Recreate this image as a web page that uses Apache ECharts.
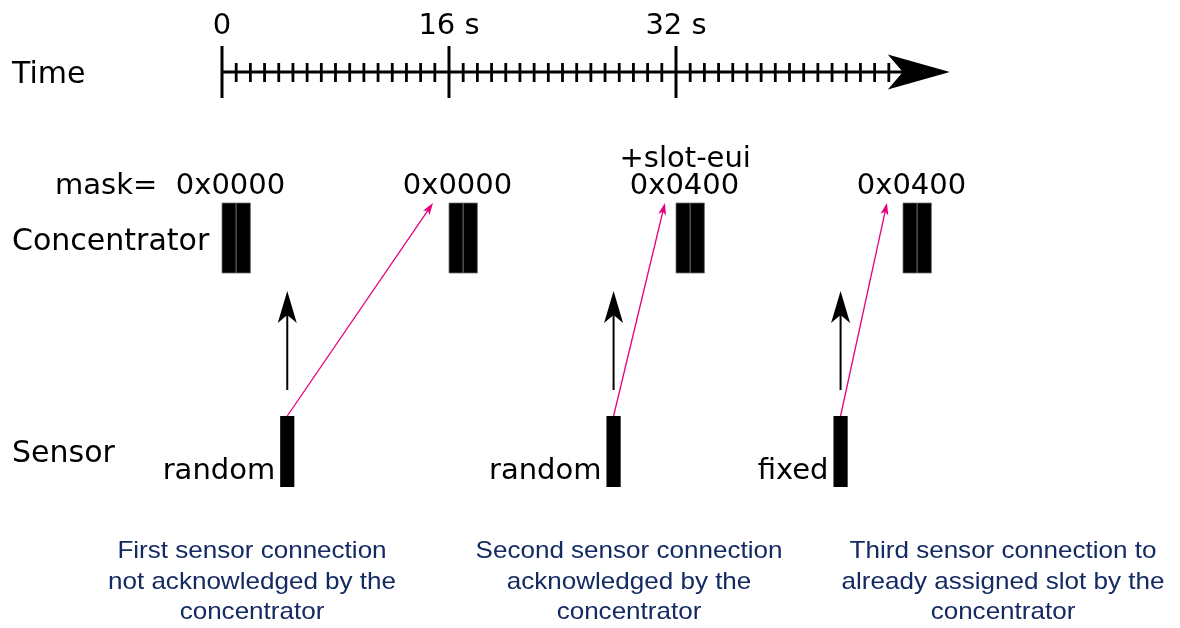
<!DOCTYPE html>
<html>
<head>
<meta charset="utf-8">
<script src="https://cdn.jsdelivr.net/npm/echarts@6/dist/echarts.min.js"></script>
<style>
html,body{margin:0;padding:0;background:#ffffff;}
#c{width:1180px;height:628px;}
</style>
</head>
<body>
<div id="c"></div>
<script>
// ---------------- data (time in seconds) ----------------
const majorTicks = [0, 16, 32];
const majorTickLabels = ['0', '16 s', '32 s'];
const minorTicks = [1,2,3,4,5,6,7,8,9,10,11,12,13,14,15,
                    17,18,19,20,21,22,23,24,25,26,27,28,29,30,31,
                    33,34,35,36,37,38,39,40,41,42,43,44,45,46,47];
const axisEnd = 51.3;                       // tip of the time arrow
const concentratorSlots = [0, 16, 32, 48];  // beacon start times
const concentratorParts = [1, 1];           // each beacon: two 1-s halves
const masks = ['0x0000', '0x0000', '0x0400', '0x0400'];
const maskNotes = ['', '', '+slot-eui', ''];
const sensorStarts = [4.1, 27.1, 43.1];
const sensorDuration = 1;
const sensorModes = ['random', 'random', 'fixed'];
const ackTargets = [14.87, 31.22, 46.87];   // where the magenta arrows end
const rowLabels = ['Time', 'Concentrator', 'Sensor'];
const captions = [
  'First sensor connection\nnot acknowledged by the\nconcentrator',
  'Second sensor connection\nacknowledged by the\nconcentrator',
  'Third sensor connection to\nalready assigned slot by the\nconcentrator'
];

// ---------------- layout / style ----------------
const PX_PER_S = 14.1875;
const AXIS_LEFT = 222;
const XMAX = 47;
const FONT = '"DejaVu Sans", sans-serif';
const FS = 29;
const ROW_FS = 30;
const CAP_FONT = '"Liberation Sans", Arial, sans-serif';
const CAP_COLOR = '#142a63';
const MAGENTA = '#e6007e';
const L = {
  axis: 72, majorTop: 46, majorBottom: 98, minorTop: 63, minorBottom: 82,
  tickLabel: 26, maskNote: 159, mask: 186,
  concTop: 203, concBottom: 273,
  upTip: 291, upBottom: 390,
  sensorTop: 416, sensorBottom: 487, mode: 471,
  ackTop: 203,
  rowY: [75, 242, 454], rowX: 12, maskEqX: 55,
  capX: [252, 629, 1003], capY: 582
};

function px(api, t) { return api.coord([t, 0])[0]; }
function py(api, v) { return api.coord([0, v])[1]; }

function head(tipX, tipY, ang, len, half, notch) {
  const dx = Math.cos(ang), dy = Math.sin(ang);
  const nx = -dy, ny = dx;
  const bx = tipX - dx * len, by = tipY - dy * len;
  return [
    [tipX, tipY],
    [bx + nx * half, by + ny * half],
    [tipX - dx * notch, tipY - dy * notch],
    [bx - nx * half, by - ny * half]
  ];
}

function txt(text, x, y, opt) {
  opt = opt || {};
  return {
    type: 'text',
    style: {
      text: text, x: x, y: y,
      font: opt.font || (FS + 'px ' + FONT),
      fill: opt.fill || '#000',
      align: opt.align || 'center', textAlign: opt.align || 'center',
      verticalAlign: 'middle', textVerticalAlign: 'middle'
    }
  };
}

const series = [];

// time axis line + arrow
series.push({
  type: 'custom', clip: false, silent: true,
  data: [[axisEnd, 0]],
  renderItem: function (params, api) {
    const tip = px(api, api.value(0));
    const y = py(api, L.axis);
    return {
      type: 'group', children: [
        { type: 'line', shape: { x1: px(api, 0), y1: y, x2: tip - 46, y2: y },
          style: { stroke: '#000', lineWidth: 3 } },
        { type: 'polygon', shape: { points: head(tip, y, 0, 62, 17.5, 47) },
          style: { fill: '#000' } }
      ]
    };
  }
});

// minor ticks
series.push({
  type: 'custom', clip: false, silent: true,
  data: minorTicks.map(t => [t, 0]),
  renderItem: function (params, api) {
    const x = px(api, api.value(0));
    return { type: 'line', shape: { x1: x, y1: py(api, L.minorTop), x2: x, y2: py(api, L.minorBottom) },
      style: { stroke: '#000', lineWidth: 2.8 } };
  }
});

// major ticks + labels
series.push({
  type: 'custom', clip: false, silent: true,
  data: majorTicks.map((t, i) => [t, i]),
  renderItem: function (params, api) {
    const x = px(api, api.value(0));
    return {
      type: 'group', children: [
        { type: 'line', shape: { x1: x, y1: py(api, L.majorTop), x2: x, y2: py(api, L.majorBottom) },
          style: { stroke: '#000', lineWidth: 3 } },
        txt(majorTickLabels[api.value(1)], x, py(api, L.tickLabel))
      ]
    };
  }
});

// concentrator beacons
series.push({
  type: 'custom', clip: false, silent: true,
  data: concentratorSlots.map((t, i) => [t, i]),
  renderItem: function (params, api) {
    const t = api.value(0), i = api.value(1);
    const children = [];
    let cur = t;
    concentratorParts.forEach(function (d) {
      const x0 = px(api, cur), x1 = px(api, cur + d);
      children.push({ type: 'rect',
        shape: { x: x0, y: py(api, L.concTop), width: x1 - x0, height: py(api, L.concBottom) - py(api, L.concTop) },
        style: { fill: '#000', stroke: '#6e6e6e', lineWidth: 0.8 } });
      cur += d;
    });
    children.push(txt(masks[i], px(api, t + 0.6), py(api, L.mask)));
    if (maskNotes[i]) children.push(txt(maskNotes[i], px(api, t + 0.65), py(api, L.maskNote)));
    return { type: 'group', children: children };
  }
});

// sensor transmissions + upward arrows
series.push({
  type: 'custom', clip: false, silent: true,
  data: sensorStarts.map((t, i) => [t, i]),
  renderItem: function (params, api) {
    const t = api.value(0), i = api.value(1);
    const x0 = px(api, t), x1 = px(api, t + sensorDuration);
    const xc = px(api, t + sensorDuration / 2);
    const tipY = py(api, L.upTip);
    return {
      type: 'group', children: [
        { type: 'rect',
          shape: { x: x0, y: py(api, L.sensorTop), width: x1 - x0, height: py(api, L.sensorBottom) - py(api, L.sensorTop) },
          style: { fill: '#000' } },
        txt(sensorModes[i], x0 - 5, py(api, L.mode), { align: 'right' }),
        { type: 'line', shape: { x1: xc, y1: py(api, L.upBottom), x2: xc, y2: tipY + 22 },
          style: { stroke: '#000', lineWidth: 2 } },
        { type: 'polygon', shape: { points: head(xc, tipY, -Math.PI / 2, 32, 9.5, 24) },
          style: { fill: '#000' } }
      ]
    };
  }
});

// magenta acknowledgement arrows
series.push({
  type: 'custom', clip: false, silent: true,
  data: sensorStarts.map((t, i) => [t + sensorDuration / 2, ackTargets[i]]),
  renderItem: function (params, api) {
    const xs = px(api, api.value(0)), ys = py(api, L.sensorTop);
    const xe = px(api, api.value(1)), ye = py(api, L.ackTop);
    const ang = Math.atan2(ye - ys, xe - xs);
    const ex = xe - Math.cos(ang) * 8, ey = ye - Math.sin(ang) * 8;
    return {
      type: 'group', children: [
        { type: 'line', shape: { x1: xs, y1: ys, x2: ex, y2: ey },
          style: { stroke: MAGENTA, lineWidth: 1.3 } },
        { type: 'polygon', shape: { points: head(xe, ye, ang, 12, 4, 9) },
          style: { fill: MAGENTA } }
      ]
    };
  }
});

const graphics = [];
rowLabels.forEach(function (s, i) {
  graphics.push({ type: 'text', silent: true,
    style: { text: s, x: L.rowX, y: L.rowY[i], font: ROW_FS + 'px ' + FONT, fill: '#000',
      align: 'left', textAlign: 'left', verticalAlign: 'middle', textVerticalAlign: 'middle' } });
});
graphics.push({ type: 'text', silent: true,
  style: { text: 'mask=', x: L.maskEqX, y: L.mask, font: FS + 'px ' + FONT, fill: '#000',
    align: 'left', textAlign: 'left', verticalAlign: 'middle', textVerticalAlign: 'middle' } });
captions.forEach(function (s, i) {
  graphics.push({ type: 'text', silent: true, x: L.capX[i], y: L.capY, scaleX: 1.085,
    style: { text: s, x: 0, y: 0, font: '24px ' + CAP_FONT, fill: CAP_COLOR, lineHeight: 30.5,
      align: 'center', textAlign: 'center', verticalAlign: 'middle', textVerticalAlign: 'middle' } });
});

const chart = echarts.init(document.getElementById('c'));
chart.setOption({
  animation: false,
  backgroundColor: '#ffffff',
  grid: { left: AXIS_LEFT, top: 0, width: XMAX * PX_PER_S, height: 628 },
  xAxis: { type: 'value', min: 0, max: XMAX, show: false },
  yAxis: { type: 'value', min: 0, max: 628, inverse: true, show: false },
  graphic: graphics,
  series: series
});
</script>
</body>
</html>
